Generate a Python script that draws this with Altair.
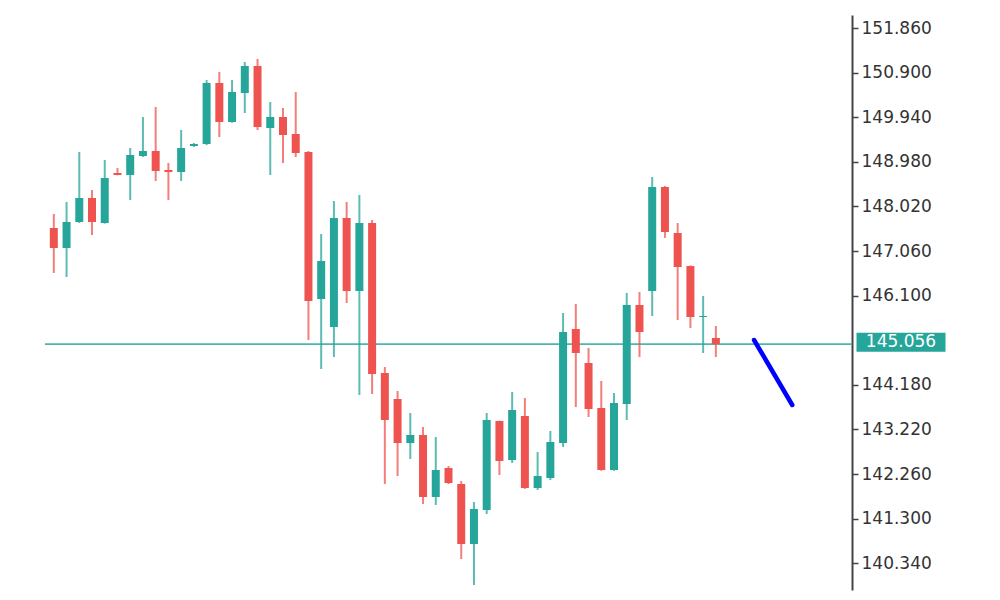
import altair as alt
import pandas as pd

opens = [147.556, 147.125, 147.685, 148.201, 147.663, 148.739, 148.696, 149.105, 149.213, 148.804,
         148.761, 149.320, 149.364, 150.677, 149.837, 150.461, 151.042, 149.708, 149.945, 149.579,
         149.191, 146.027, 145.425, 147.771, 146.200, 147.663, 144.435, 143.875, 142.928, 143.100,
         141.766, 142.390, 142.045, 140.754, 141.486, 143.401, 142.562, 143.509, 141.959, 142.175,
         142.928, 145.382, 144.650, 143.681, 142.347, 143.767, 145.898, 146.200, 148.438, 147.448,
         146.737, 145.640, 145.188]
highs = [147.857, 148.115, 149.191, 148.373, 149.019, 148.847, 149.277, 149.945, 150.160, 148.955,
         149.665, 149.385, 150.741, 150.913, 150.741, 151.129, 151.193, 150.268, 150.138, 150.483,
         149.213, 147.426, 148.137, 148.115, 148.266, 147.728, 144.564, 144.047, 143.574, 143.272,
         143.057, 142.433, 142.110, 141.658, 143.574, 143.410, 144.026, 143.896, 142.734, 143.186,
         145.726, 145.920, 144.973, 144.262, 144.004, 146.156, 146.178, 148.653, 148.460, 147.663,
         146.750, 146.092, 145.446]
lows = [146.587, 146.501, 147.663, 147.405, 147.650, 148.690, 148.158, 149.084, 148.567, 148.158,
        148.567, 149.299, 149.340, 149.514, 149.820, 150.031, 149.665, 148.696, 148.955, 149.084,
        145.145, 144.521, 144.779, 145.941, 143.961, 143.983, 142.045, 142.218, 142.583, 141.615,
        141.594, 142.045, 140.431, 139.871, 141.400, 142.239, 142.498, 141.940, 141.916, 142.132,
        142.842, 143.703, 143.488, 142.330, 142.330, 143.423, 144.779, 145.661, 147.343, 145.575,
        145.403, 144.865, 144.779]
closes = [147.125, 147.685, 148.201, 147.685, 148.632, 148.696, 149.127, 149.213, 148.782, 148.761,
          149.277, 149.364, 150.677, 149.837, 150.483, 151.042, 149.729, 149.945, 149.557, 149.170,
          145.984, 146.845, 147.771, 146.200, 147.663, 144.413, 143.423, 142.928, 143.100, 141.766,
          142.347, 142.067, 140.754, 141.507, 143.423, 142.540, 143.638, 141.959, 142.218, 142.949,
          145.317, 144.865, 143.660, 142.347, 143.789, 145.898, 145.317, 148.438, 147.469, 146.716,
          145.640, 145.661, 145.056]

tick_values = [151.860, 150.900, 149.940, 148.980, 148.020, 147.060, 146.100,
               144.180, 143.220, 142.260, 141.300, 140.340]
last_price = 145.056
last_label = "145.056"

trend_x = [55, 58]
trend_y = [145.145, 143.746]

df = pd.DataFrame({
    "i": list(range(len(opens))),
    "open": opens, "high": highs, "low": lows, "close": closes,
})
df["dir"] = ["up" if c >= o else "down" for o, c in zip(opens, closes)]

W, H = 807, 575
xs = alt.Scale(domain=[-0.3, 62.3], nice=False, zero=False)
ys = alt.Scale(domain=[139.764, 152.140], nice=False, zero=False)
col = alt.Scale(domain=["up", "down"], range=["#26a69a", "#ef5350"])

base = alt.Chart(df)
wicks = base.mark_rule(strokeWidth=2, opacity=0.75).encode(
    x=alt.X("i:Q", scale=xs, axis=None),
    y=alt.Y("low:Q", scale=ys,
            axis=alt.Axis(orient="right", values=tick_values, format=".3f", grid=False,
                          domainColor="#444444", domainWidth=2, tickColor="#444444",
                          tickSize=6, tickWidth=1.5, labelFont="DejaVu Sans", labelFontSize=17,
                          labelColor="#333333", labelPadding=3, title=None, labelFlush=False)),
    y2="high:Q",
    color=alt.Color("dir:N", scale=col, legend=None),
)
bodies = base.mark_bar(width=8).encode(
    x=alt.X("i:Q", scale=xs),
    y=alt.Y("open:Q", scale=ys),
    y2="close:Q",
    color=alt.Color("dir:N", scale=col, legend=None),
)

lp = pd.DataFrame({"p": [last_price], "t": [last_label]})
hline = alt.Chart(lp).mark_rule(color="#4db6ac", strokeWidth=1.8).encode(
    y=alt.Y("p:Q", scale=ys))
box = alt.Chart(lp).mark_tick(orient="horizontal", color="#26a69a", size=89, thickness=19,
                              opacity=1).encode(
    x=alt.value(W + 49), y=alt.Y("p:Q", scale=ys), yOffset=alt.value(-2))
txt = alt.Chart(lp).mark_text(color="white", font="DejaVu Sans", fontSize=17,
                              align="center", baseline="middle").encode(
    x=alt.value(W + 49), y=alt.Y("p:Q", scale=ys), yOffset=alt.value(-2), text="t:N")

tr = pd.DataFrame({"x": trend_x, "y": trend_y})
trend = alt.Chart(tr).mark_line(color="#0000ff", strokeWidth=4.5, strokeCap="round").encode(
    x=alt.X("x:Q", scale=xs), y=alt.Y("y:Q", scale=ys))

chart = alt.layer(hline, wicks, bodies, trend, box, txt).properties(
    width=W, height=H,
    padding={"left": 36, "top": 7, "right": 5, "bottom": 5},
    background="white",
).configure_view(stroke=None)

chart.save("out.html", embed_options={"renderer": "svg", "actions": False})
